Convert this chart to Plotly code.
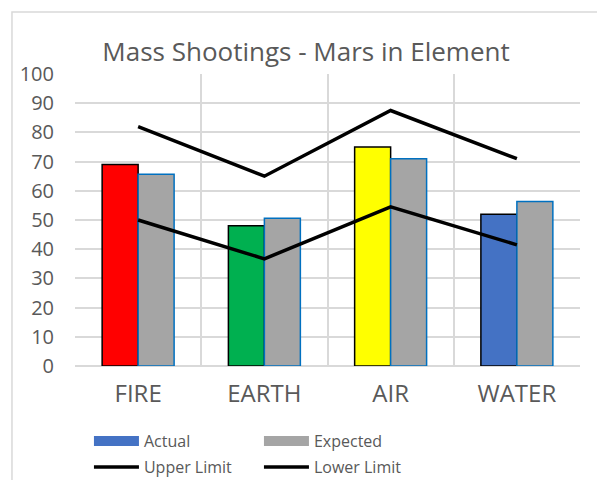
import plotly.graph_objects as go

# data
elements = ["FIRE", "EARTH", "AIR", "WATER"]
actual = [69, 48, 75, 52]
expected = [65.7, 50.6, 71, 56.3]
upper_limit = [82, 65, 87.5, 71]
lower_limit = [50, 36.7, 54.5, 41.5]
actual_colors = ["#FF0000", "#00B050", "#FFFF00", "#4472C4"]

grey_txt = "#595959"
grid = "#D9D9D9"

fig = go.Figure()

fig.add_trace(go.Bar(x=elements, y=actual, name="Actual", offsetgroup="a",
                     marker=dict(color=actual_colors, line=dict(color="black", width=1.5)),
                     showlegend=False))
fig.add_trace(go.Bar(x=elements, y=expected, name="Expected", offsetgroup="b",
                     marker=dict(color="#A5A5A5", line=dict(color="#0070C0", width=1.5)),
                     showlegend=False))
# wide legend swatches like excel (bar legend symbols in plotly are tiny squares)
fig.add_trace(go.Scatter(x=elements, y=[None] * len(elements), name="Actual", mode="lines",
                         line=dict(color="#4472C4", width=13), legend="legend"))
fig.add_trace(go.Scatter(x=elements, y=[None] * len(elements), name="Expected", mode="lines",
                         line=dict(color="#A5A5A5", width=13), legend="legend"))
fig.add_trace(go.Scatter(x=elements, y=upper_limit, name="Upper Limit", mode="lines",
                         line=dict(color="black", width=3.5), legend="legend2"))
fig.add_trace(go.Scatter(x=elements, y=lower_limit, name="Lower Limit", mode="lines",
                         line=dict(color="black", width=3.5), legend="legend2"))

leg = dict(orientation="h", xref="container", yref="container", x=0.149, xanchor="left",
           yanchor="middle", entrywidthmode="pixels", entrywidth=110, itemwidth=45,
           font=dict(family="Open Sans", size=16, color=grey_txt),
           bgcolor="rgba(0,0,0,0)", traceorder="normal")

fig.update_layout(
    width=597, height=480,
    margin=dict(l=75, r=17, t=74, b=114),
    paper_bgcolor="white", plot_bgcolor="white",
    barmode="group", bargap=0.43, bargroupgap=0,
    title=dict(text="Mass Shootings - Mars in Element", xref="container", x=0.5126,
               xanchor="center", yref="container", y=0.892, yanchor="middle",
               font=dict(family="Open Sans", size=26, color=grey_txt)),
    font=dict(family="Open Sans", color=grey_txt),
    legend=dict(leg, y=0.0813),
    legend2=dict(leg, y=0.0271),
    shapes=[dict(type="rect", xref="paper", yref="paper", x0=-0.1248, x1=1.1,
                 y0=-0.5, y1=1.2123, line=dict(color=grid, width=1.5), layer="below")],
)
fig.update_xaxes(range=[-0.5, 3.5], tickson="boundaries", showgrid=True, gridcolor=grid,
                 gridwidth=1.5, ticks="", ticklabelstandoff=11, automargin=False,
                 tickfont=dict(family="Open Sans", size=24, color=grey_txt),
                 showline=False, zeroline=False)
fig.update_yaxes(range=[0, 100], dtick=10, showgrid=True, gridcolor=grid, gridwidth=1.5,
                 zeroline=True, zerolinecolor=grid, zerolinewidth=1.5, ticks="",
                 ticklabelstandoff=20, automargin=False,
                 tickfont=dict(family="Open Sans", size=20, color=grey_txt))

fig.write_html("out.html", config={"displayModeBar": False},
               post_script="document.body.style.margin='0';")
